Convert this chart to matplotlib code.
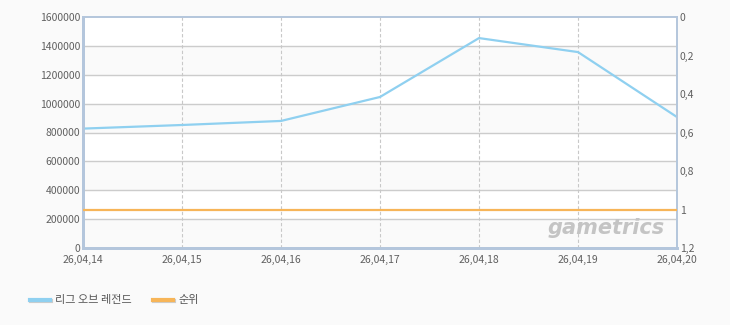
import matplotlib
matplotlib.use("Agg")
import matplotlib.pyplot as plt
from matplotlib.ticker import FuncFormatter
import matplotlib.patheffects as pe

plt.rcParams['font.family'] = ['Noto Sans CJK KR', 'DejaVu Sans']

dates = ["26,04,14", "26,04,15", "26,04,16", "26,04,17", "26,04,18", "26,04,19", "26,04,20"]
lol_values = [827000, 852000, 880000, 1046000, 1454000, 1357000, 907000]
rank_values = [1, 1, 1, 1, 1, 1, 1]
series_names = ["리그 오브 레전드", "순위"]
left_ticks = [0, 200000, 400000, 600000, 800000, 1000000, 1200000, 1400000, 1600000]
right_ticks = [0, 0.2, 0.4, 0.6, 0.8, 1.0, 1.2]

blue = "#8fd0f0"
orange = "#f7b558"
frame = "#b4c6dc"
tick_color = "#606060"

fig = plt.figure(figsize=(7.3, 3.25), dpi=100, facecolor="#fafafa")
ax = fig.add_axes([83/730, (325-248)/325, (677-83)/730, (248-17)/325])
ax.set_facecolor("white")
x = list(range(len(dates)))

ax.set_xlim(0, len(dates)-1)
ax.set_ylim(0, 1600000)
for i in range(len(left_ticks)-1):
    if i % 2 == 0:
        ax.axhspan(left_ticks[i], left_ticks[i+1], color="#fafafa", zorder=0)
for t in left_ticks[1:-1]:
    ax.axhline(t, color="#cccccc", lw=1, zorder=1)
for xi in x[1:-1]:
    ax.axvline(xi, color="#c8c8c8", lw=0.8, ls=(0, (3, 2)), zorder=1)

ax.plot(x, lol_values, color=blue, lw=1.6, zorder=3)
ax.set_yticks(left_ticks)
ax.set_yticklabels([str(v) for v in left_ticks])
ax.set_xticks(x)
ax.set_xticklabels(dates)

ax2 = ax.twinx()
ax2.set_ylim(1.2, 0)
ax2.plot(x, rank_values, color=orange, lw=1.6, zorder=3)
ax2.set_yticks(right_ticks)
ax2.yaxis.set_major_formatter(FuncFormatter(lambda v, p: ("%g" % v).replace(".", ",")))

for a in (ax, ax2):
    for s in a.spines.values():
        s.set_color(frame)
        s.set_linewidth(1.2)
    a.tick_params(length=0, labelsize=7.5, colors=tick_color, pad=2)
ax.tick_params(axis="x", pad=5)
for a in (ax, ax2):
    a.spines['left'].set_linewidth(2)
    a.spines['bottom'].set_linewidth(2)

ax.text(0.98, 0.085, "gametrics", transform=ax.transAxes, ha="right", va="center",
        fontsize=15, fontstyle="italic", fontweight="bold", color="#c4c4c4",
        family=["DejaVu Sans"], zorder=2)

# legend
ly = 1 - 300/325
shadow = [pe.SimpleLineShadow(offset=(0.8, -0.8), shadow_color="#cccccc", alpha=1), pe.Normal()]
fig.lines.append(plt.Line2D([30/730, 50/730], [ly]*2, color=blue, lw=3,
                            transform=fig.transFigure, path_effects=shadow))
fig.text(55/730, ly, series_names[0], fontsize=8, color="#555555", va="center")
fig.lines.append(plt.Line2D([153/730, 173/730], [ly]*2, color=orange, lw=3,
                            transform=fig.transFigure, path_effects=shadow))
fig.text(178/730, ly, series_names[1], fontsize=8, color="#555555", va="center")

fig.savefig("out.png", dpi=100, facecolor=fig.get_facecolor())
